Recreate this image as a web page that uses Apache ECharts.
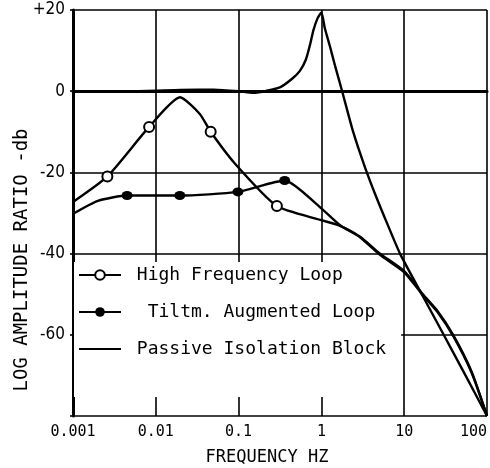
<!DOCTYPE html>
<html><head><meta charset="utf-8">
<script src="https://cdn.jsdelivr.net/npm/echarts@6/dist/echarts.min.js"></script>
<style>html,body{margin:0;padding:0;background:#fff}#c{width:490px;height:468px}</style>
</head><body><div id="c"></div>
<script>
const seriesNames = ['High Frequency Loop', 'Tiltm. Augmented Loop', 'Passive Isolation Block'];
const xTickLabels = ['0.001', '0.01', '0.1', '1', '10', '100'];
const yTickLabels = ['', '-60', '-40', '-20', '0', '+20'];
const xAxisName = 'FREQUENCY HZ';
const yAxisName = 'LOG AMPLITUDE RATIO -db';

// [frequency Hz, dB]
const highFreqLoop = [
  [0.001, -27.3], [0.0026, -21], [0.0083, -8.8], [0.0196, -1.5], [0.034, -5.6],
  [0.046, -10], [0.09, -17.8], [0.29, -28.3], [0.97, -31.7], [1.6, -33],
  [2.9, -35.8], [5.1, -40], [10, -44.3], [16.8, -50], [25, -54], [39, -60],
  [65, -69], [100, -80]
];
const highFreqMarkerIdx = [1, 2, 5, 7];

const tiltmLoop = [
  [0.001, -30.2], [0.002, -27], [0.0045, -25.7], [0.0195, -25.7], [0.098, -24.8],
  [0.36, -22], [0.93, -28.3], [1.68, -33], [2.9, -35.9], [5.1, -40.3],
  [10, -44.6], [16.8, -50.2], [25, -54.3], [39, -60.3], [65, -69.3], [100, -80]
];
const tiltmMarkerIdx = [2, 3, 4, 5];

const passiveBlock = [
  [0.001, 0], [0.005, 0], [0.02, 0.3], [0.05, 0.4], [0.1, 0], [0.15, -0.4],
  [0.22, 0.1], [0.32, 1], [0.45, 3.2], [0.55, 5], [0.65, 7.8], [0.73, 11.5],
  [0.8, 15], [0.9, 18], [1, 19.4], [1.1, 15.5], [1.27, 11], [1.46, 6.3],
  [1.78, 0], [2.41, -9.9], [3.37, -18.8], [4.69, -26.5], [6.2, -32.5],
  [8.9, -40], [16.8, -50.5], [30, -60], [55, -70], [100, -80]
];

function withMarkers(points, idx) {
  return points.map((p, i) => idx.includes(i) ? { value: p } : { value: p, symbol: 'none' });
}

const chart = echarts.init(document.getElementById('c'), null, { renderer: 'canvas' });
const lineStyle = { color: '#000', width: 2.4 };
chart.setOption({
  animation: false,
  backgroundColor: '#fff',
  grid: { left: 73, right: 3, top: 10, bottom: 52, containLabel: false, outerBoundsMode: 'none' },
  xAxis: {
    type: 'log', logBase: 10, min: 0.001, max: 100,
    name: xAxisName, nameLocation: 'middle', nameGap: 33,
    nameTextStyle: { fontFamily: 'DejaVu Sans Mono', fontSize: 17, color: '#000', padding: [0, 26, 0, 0] },
    axisLine: { lineStyle: { color: '#000', width: 3 } },
    axisTick: { show: false },
    axisLabel: {
      color: '#000', fontFamily: 'DejaVu Sans Mono', fontSize: 15, margin: 9,
      alignMaxLabel: 'right',
      formatter: (v, i) => xTickLabels[i]
    },
    splitLine: { show: true, lineStyle: { color: '#000', width: 1.6 } },
    minorTick: { show: false }
  },
  yAxis: {
    type: 'value', min: -80, max: 20, interval: 20,
    name: yAxisName, nameLocation: 'middle', nameGap: 41, nameRotate: 90,
    nameMoveOverlap: false,
    nameTextStyle: { fontFamily: 'DejaVu Sans Mono', fontSize: 19, color: '#000', padding: [0, 94, 0, 0] },
    axisLine: { show: true, lineStyle: { color: '#000', width: 3 } },
    axisTick: { show: true, length: 3, lineStyle: { color: '#000', width: 1.6 } },
    axisLabel: {
      color: '#000', fontFamily: 'Liberation Sans Narrow, DejaVu Sans Condensed, sans-serif', fontSize: 17, margin: 8,
      formatter: (v, i) => yTickLabels[i]
    },
    splitLine: { show: true, lineStyle: { color: '#000', width: 1.6 } }
  },
  legend: {
    orient: 'vertical', left: 74, top: 262, z: 1,
    itemWidth: 42, itemHeight: 12, itemGap: 19,
    padding: [4, 15, 39, 4], backgroundColor: '#fff',
    textStyle: { fontFamily: 'DejaVu Sans Mono', fontSize: 18, color: '#000' },
    formatter: n => (n === seriesNames[1] ? '  ' : ' ') + n,
    data: [
      { name: seriesNames[0] },
      { name: seriesNames[1] },
      { name: seriesNames[2], itemStyle: { opacity: 0 } }
    ]
  },
  series: [
    {
      name: seriesNames[0], type: 'line', smooth: 0.2, z: 3,
      data: withMarkers(highFreqLoop, highFreqMarkerIdx),
      symbol: 'emptyCircle', symbolSize: 10,
      lineStyle: lineStyle, itemStyle: { color: '#000', borderWidth: 2.2 }
    },
    {
      name: seriesNames[1], type: 'line', smooth: 0.2, z: 3,
      data: withMarkers(tiltmLoop, tiltmMarkerIdx),
      symbol: 'circle', symbolSize: [11, 9],
      lineStyle: lineStyle, itemStyle: { color: '#000' }
    },
    {
      name: seriesNames[2], type: 'line', smooth: 0.2, z: 3,
      data: passiveBlock.map(p => ({ value: p })),
      symbol: 'none',
      lineStyle: lineStyle, itemStyle: { color: '#000' }
    }
  ]
});
</script>
</body></html>
